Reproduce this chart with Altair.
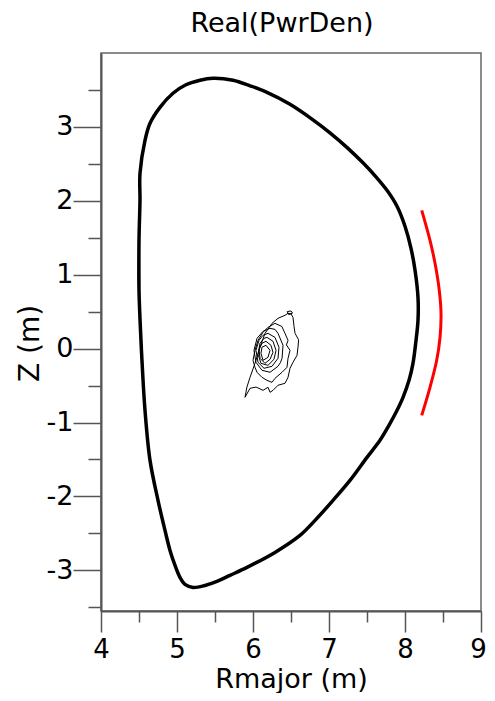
import altair as alt
import pandas as pd

# Plasma boundary (Rmajor, Z) in metres
boundary_R = [4.500, 4.500, 4.513, 4.513, 4.579, 4.645, 4.776, 4.947, 5.105, 5.303,
              5.474, 5.737, 5.961, 6.184, 6.487, 6.789, 7.013, 7.250, 7.447, 7.618,
              7.763, 7.895, 8.000, 8.079, 8.132, 8.171, 8.171, 8.145, 8.105, 8.053,
              7.974, 7.882, 7.789, 7.671, 7.500, 7.276, 7.053, 6.816, 6.618, 6.289,
              5.921, 5.697, 5.526, 5.368, 5.211, 5.105, 5.039, 4.974, 4.908, 4.842,
              4.750, 4.645, 4.579, 4.539, 4.526, 4.500, 4.500]
boundary_Z = [0.789, 1.466, 2.008, 2.372, 2.819, 3.049, 3.265, 3.455, 3.563, 3.631,
              3.658, 3.631, 3.556, 3.468, 3.306, 3.096, 2.920, 2.710, 2.514, 2.325,
              2.142, 1.926, 1.655, 1.357, 1.060, 0.694, 0.383, 0.112, -0.199, -0.429,
              -0.659, -0.862, -1.038, -1.241, -1.471, -1.783, -2.053, -2.324, -2.527, -2.757,
              -2.960, -3.068, -3.149, -3.204, -3.231, -3.190, -3.095, -2.933, -2.730, -2.459,
              -2.053, -1.512, -0.835, -0.158, 0.112, 0.789, 1.466]

# Antenna (red)
antenna_R = [8.220, 8.329, 8.395, 8.451, 8.474, 8.461, 8.417, 8.329, 8.220]
antenna_Z = [1.871, 1.465, 1.154, 0.788, 0.478, 0.153, -0.158, -0.524, -0.903]

# Power density contours
contour_R = [
    [6.461, 6.500, 6.526, 6.540, 6.553, 6.600, 6.592, 6.579, 6.526, 6.487, 6.461, 6.421,
     6.329, 6.263, 6.224, 6.197, 6.132, 6.040, 5.961, 5.895, 5.920, 5.961, 6.026, 6.092,
     6.158, 6.250, 6.329, 6.421, 6.461],
    [6.289, 6.380, 6.421, 6.461, 6.440, 6.487, 6.461, 6.447, 6.382, 6.289, 6.250, 6.184,
     6.118, 6.053, 6.026, 6.000, 6.026, 6.066, 6.132, 6.197, 6.289],
    [6.224, 6.290, 6.329, 6.395, 6.382, 6.360, 6.329, 6.224, 6.118, 6.039, 6.013, 6.053,
     6.132, 6.224],
    [6.197, 6.289, 6.342, 6.329, 6.250, 6.145, 6.066, 6.039, 6.079, 6.132, 6.197],
    [6.184, 6.263, 6.303, 6.276, 6.197, 6.105, 6.066, 6.092, 6.145, 6.184],
    [6.171, 6.237, 6.263, 6.224, 6.158, 6.092, 6.079, 6.118, 6.171],
    [6.171, 6.224, 6.197, 6.132, 6.105, 6.118, 6.171],
    [6.450, 6.500, 6.520, 6.470, 6.450],
]
contour_Z = [
    [0.478, 0.470, 0.424, 0.300, 0.207, 0.120, 0.018, -0.091, -0.185, -0.266, -0.388, -0.469,
     -0.496, -0.564, -0.591, -0.523, -0.564, -0.520, -0.537, -0.659, -0.520, -0.388, -0.199, 0.018,
     0.207, 0.342, 0.410, 0.451, 0.478],
    [0.342, 0.300, 0.207, 0.112, 0.050, -0.023, -0.131, -0.253, -0.320, -0.402, -0.456, -0.429,
     -0.388, -0.320, -0.253, -0.158, -0.023, 0.112, 0.221, 0.288, 0.342],
    [0.275, 0.260, 0.207, 0.045, -0.131, -0.190, -0.239, -0.320, -0.293, -0.185, -0.023, 0.139,
     0.234, 0.275],
    [0.207, 0.153, 0.018, -0.131, -0.239, -0.266, -0.185, -0.023, 0.112, 0.180, 0.207],
    [0.153, 0.099, -0.023, -0.145, -0.226, -0.199, -0.077, 0.072, 0.139, 0.153],
    [0.099, 0.045, -0.050, -0.145, -0.199, -0.131, -0.010, 0.072, 0.099],
    [0.045, -0.023, -0.118, -0.158, -0.064, 0.018, 0.045],
    [0.500, 0.510, 0.480, 0.460, 0.500],
]

x_major = [4, 5, 6, 7, 8, 9]
x_minor = [4.5, 5.5, 6.5, 7.5, 8.5]
y_major = [-3, -2, -1, 0, 1, 2, 3]
y_minor = [-3.5, -2.5, -1.5, -0.5, 0.5, 1.5, 2.5, 3.5]

boundary = pd.DataFrame({"R": boundary_R, "Z": boundary_Z, "i": range(len(boundary_R))})
antenna = pd.DataFrame({"R": antenna_R, "Z": antenna_Z, "i": range(len(antenna_R))})
rows = []
for k, (rr, zz) in enumerate(zip(contour_R, contour_Z)):
    for j, (r, z) in enumerate(zip(rr, zz)):
        rows.append({"R": r, "Z": z, "i": j, "c": k})
contours = pd.DataFrame(rows)

FONT = "DejaVu Sans"
xs = alt.Scale(domain=[4, 9], nice=False, zero=False)
ys = alt.Scale(domain=[-3.55, 4.0], nice=False, zero=False)

x_axis_major = alt.Axis(values=x_major, tickSize=21, tickWidth=1.5, tickColor="#555",
                        domainColor="#555", domainWidth=2, labelFont=FONT, labelFontSize=26,
                        labelColor="black", labelPadding=4, labelFlush=False,
                        labelOffset={"condition": {"test": "datum.value === 9", "value": -3},
                                     "value": 0},
                        labelExpr="toString(datum.value)",
                        title="Rmajor (m)", titleFont=FONT, titleFontSize=27,
                        titleFontWeight="normal", titleColor="black", titlePadding=4,
                        grid=False, orient="bottom")
y_axis_major = alt.Axis(values=y_major, tickSize=28, tickWidth=1.5, tickColor="#555",
                        domainColor="#555", domainWidth=2, labelFont=FONT, labelFontSize=27,
                        labelColor="black", labelPadding=0, labelFlush=False,
                        labelExpr="toString(datum.value)",
                        title="Z (m)", titleFont=FONT, titleFontSize=28,
                        titleFontWeight="normal", titleColor="black", titlePadding=2,
                        titleY=290, grid=False, orient="left")
x_axis_minor = alt.Axis(values=x_minor, tickSize=11, tickWidth=1.5, tickColor="#555",
                        labels=False, domain=False, title=None, grid=False, orient="bottom")
y_axis_minor = alt.Axis(values=y_minor, tickSize=13, tickWidth=1.5, tickColor="#555",
                        labels=False, domain=False, title=None, grid=False, orient="left")

b_layer = alt.Chart(boundary).mark_line(color="black", strokeWidth=3.5,
                                        interpolate="catmull-rom").encode(
    x=alt.X("R:Q", scale=xs, axis=x_axis_major),
    y=alt.Y("Z:Q", scale=ys, axis=y_axis_major),
    order="i:Q",
)
c_layer = alt.Chart(contours).mark_line(color="black", strokeWidth=1).encode(
    x=alt.X("R:Q", scale=xs, axis=x_axis_minor),
    y=alt.Y("Z:Q", scale=ys, axis=y_axis_minor),
    detail="c:N",
    order="i:Q",
)
a_layer = alt.Chart(antenna).mark_line(color="#ff0000", strokeWidth=3,
                                       interpolate="catmull-rom").encode(
    x=alt.X("R:Q", scale=xs, axis=None),
    y=alt.Y("Z:Q", scale=ys, axis=None),
    order="i:Q",
)

chart = alt.layer(b_layer, c_layer, a_layer).resolve_axis(
    x="independent", y="independent"
).properties(
    width=380, height=558,
    autosize=alt.AutoSizeParams(type="none"),
    padding={"left": 93, "top": 45, "right": 6, "bottom": 82},
    title=alt.TitleParams("Real(PwrDen)", font=FONT, fontSize=27, fontWeight="normal",
                          color="black", anchor="middle", offset=15, dx=-9),
).configure_view(stroke="#666", strokeWidth=1.5)

chart.save("out.html", embed_options={"renderer": "svg", "actions": False})
